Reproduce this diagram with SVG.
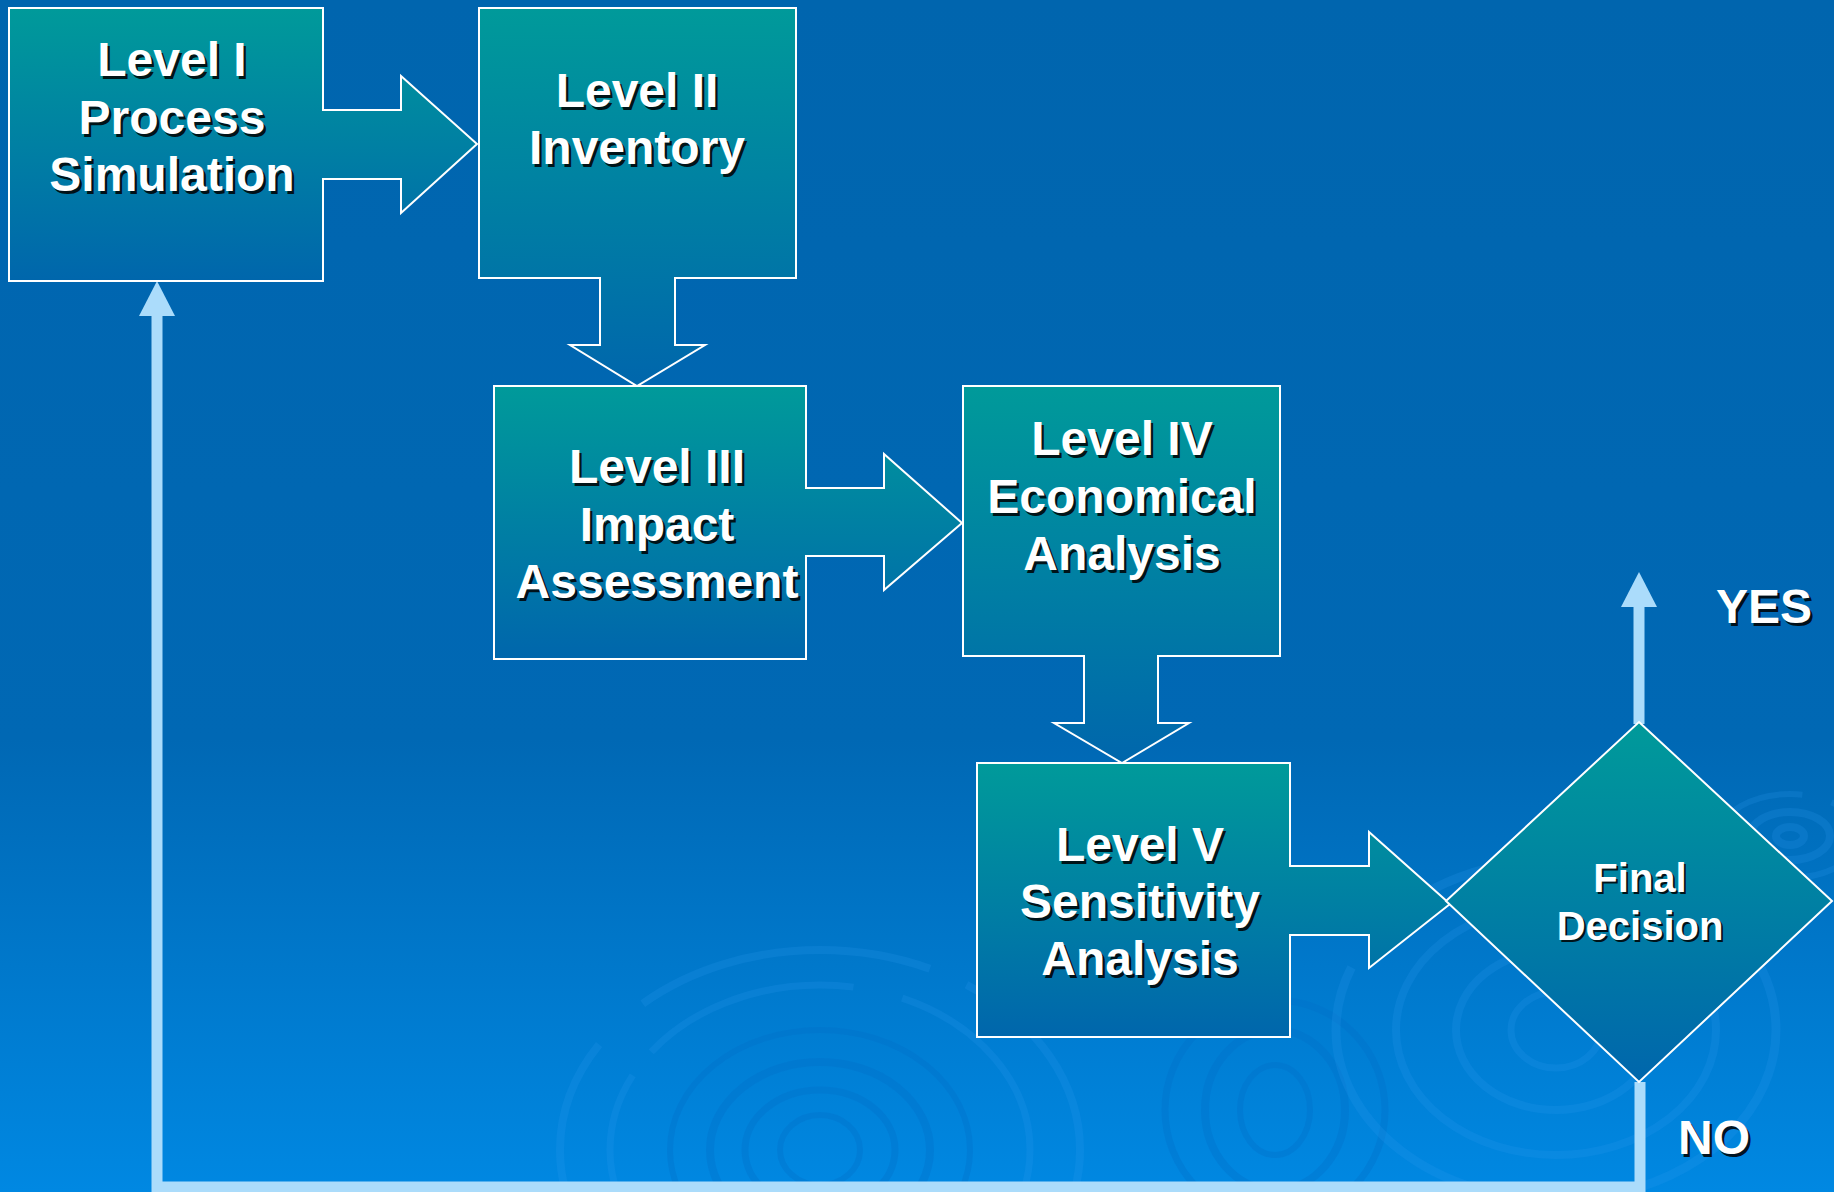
<svg xmlns="http://www.w3.org/2000/svg" width="1834" height="1192" viewBox="0 0 1834 1192">
  <defs>
    <linearGradient id="bg" x1="0" y1="0" x2="0" y2="1">
      <stop offset="0" stop-color="#0065ae"/>
      <stop offset="0.62" stop-color="#0068b4"/>
      <stop offset="1" stop-color="#0088e2"/>
    </linearGradient>
    <linearGradient id="boxFill" x1="0" y1="0" x2="0" y2="1">
      <stop offset="0" stop-color="#009a9a"/>
      <stop offset="1" stop-color="#0066ac"/>
    </linearGradient>
    <style>
      .shape { fill: url(#boxFill); stroke: #ffffff; stroke-width: 2; stroke-linejoin: miter; }
      .lbl { font-family: "Liberation Sans", Arial, sans-serif; font-weight: bold; font-size: 48px; text-anchor: middle; }
      .sm { font-size: 40px; }
      .txt { fill: #ffffff; }
      .shadow { fill: #000000; fill-opacity: 0.85; }
      .flow { fill: none; stroke: #abdcfb; stroke-width: 11; stroke-linejoin: miter; }
      .head { fill: #abdcfb; }
      .ripple { fill: none; stroke: #2b9cf2; stroke-opacity: 0.2; }
      .rippleDark { fill: none; stroke: #0070c8; stroke-opacity: 0.35; }
    </style>
  </defs>

  <!-- background -->
  <rect x="0" y="0" width="1834" height="1192" fill="url(#bg)"/>

  <!-- faint water ripples -->
  <g id="ripples">
    <ellipse class="ripple" cx="820" cy="1150" rx="260" ry="200" stroke-width="8" stroke-dasharray="300 40 500 60"/>
    <ellipse class="ripple" cx="820" cy="1150" rx="210" ry="165" stroke-width="7" stroke-dasharray="220 50 400 30"/>
    <ellipse class="rippleDark" cx="820" cy="1150" rx="150" ry="120" stroke-width="6"/>
    <ellipse class="rippleDark" cx="820" cy="1150" rx="110" ry="88" stroke-width="8"/>
    <ellipse class="rippleDark" cx="820" cy="1150" rx="75" ry="60" stroke-width="7"/>
    <ellipse class="rippleDark" cx="820" cy="1150" rx="40" ry="35" stroke-width="6"/>
    <ellipse class="rippleDark" cx="1275" cy="1110" rx="110" ry="110" stroke-width="7"/>
    <ellipse class="rippleDark" cx="1275" cy="1110" rx="70" ry="80" stroke-width="8"/>
    <ellipse class="rippleDark" cx="1275" cy="1110" rx="35" ry="45" stroke-width="6"/>
    <ellipse class="ripple" cx="1556" cy="1030" rx="220" ry="170" stroke-width="9" stroke-dasharray="260 40 380 50"/>
    <ellipse class="ripple" cx="1556" cy="1030" rx="160" ry="125" stroke-width="8"/>
    <ellipse class="ripple" cx="1556" cy="1030" rx="100" ry="80" stroke-width="8"/>
    <ellipse class="ripple" cx="1556" cy="1030" rx="45" ry="38" stroke-width="7"/>
    <ellipse class="ripple" cx="1790" cy="836" rx="70" ry="42" stroke-width="6" stroke-dasharray="120 20 140 30"/>
    <ellipse class="ripple" cx="1790" cy="836" rx="40" ry="24" stroke-width="8"/>
    <ellipse class="ripple" cx="1790" cy="836" rx="14" ry="9" stroke-width="8"/>
  </g>

  <!-- feedback and exit connectors -->
  <g id="connectors">
    <polyline class="flow" points="1640,1082 1640,1187 152,1187"/>
    <polyline class="flow" points="157,1192 157,314"/>
    <polygon class="head" points="139,316 157,281 175,316"/>
    <polyline class="flow" points="1639,724 1639,605"/>
    <polygon class="head" points="1621,607 1639,572 1657,607"/>
  </g>

  <!-- Level I with block arrow -->
  <g id="level1">
    <path class="shape" d="M9,8 H323 V110 H401 V76 L477,144 L401,213 V179 H323 V281 H9 Z"/>
    <g class="lbl">
      <g class="shadow" transform="translate(2.5,2.5)">
        <text x="172" y="76">Level I</text>
        <text x="172" y="134">Process</text>
        <text x="172" y="191">Simulation</text>
      </g>
      <g class="txt">
        <text x="172" y="76">Level I</text>
        <text x="172" y="134">Process</text>
        <text x="172" y="191">Simulation</text>
      </g>
    </g>
  </g>

  <!-- Level II with block arrow -->
  <g id="level2">
    <path class="shape" d="M479,8 H796 V278 H675 V345 H705 L637,386 L570,345 H600 V278 H479 Z"/>
    <g class="lbl">
      <g class="shadow" transform="translate(2.5,2.5)">
        <text x="637" y="107">Level II</text>
        <text x="637" y="164">Inventory</text>
      </g>
      <g class="txt">
        <text x="637" y="107">Level II</text>
        <text x="637" y="164">Inventory</text>
      </g>
    </g>
  </g>

  <!-- Level III with block arrow -->
  <g id="level3">
    <path class="shape" d="M494,386 H806 V488 H884 V454 L962,523 L884,590 V556 H806 V659 H494 Z"/>
    <g class="lbl">
      <g class="shadow" transform="translate(2.5,2.5)">
        <text x="657" y="483">Level III</text>
        <text x="657" y="541">Impact</text>
        <text x="657" y="598">Assessment</text>
      </g>
      <g class="txt">
        <text x="657" y="483">Level III</text>
        <text x="657" y="541">Impact</text>
        <text x="657" y="598">Assessment</text>
      </g>
    </g>
  </g>

  <!-- Level IV with block arrow -->
  <g id="level4">
    <path class="shape" d="M963,386 H1280 V656 H1158 V723 H1189 L1122,763 L1054,723 H1084 V656 H963 Z"/>
    <g class="lbl">
      <g class="shadow" transform="translate(2.5,2.5)">
        <text x="1122" y="455">Level IV</text>
        <text x="1122" y="513">Economical</text>
        <text x="1122" y="570">Analysis</text>
      </g>
      <g class="txt">
        <text x="1122" y="455">Level IV</text>
        <text x="1122" y="513">Economical</text>
        <text x="1122" y="570">Analysis</text>
      </g>
    </g>
  </g>

  <!-- Level V with block arrow -->
  <g id="level5">
    <path class="shape" d="M977,763 H1290 V866 H1369 V832 L1450,904 L1369,968 V935 H1290 V1037 H977 Z"/>
    <g class="lbl">
      <g class="shadow" transform="translate(2.5,2.5)">
        <text x="1140" y="861">Level V</text>
        <text x="1140" y="918">Sensitivity</text>
        <text x="1140" y="975">Analysis</text>
      </g>
      <g class="txt">
        <text x="1140" y="861">Level V</text>
        <text x="1140" y="918">Sensitivity</text>
        <text x="1140" y="975">Analysis</text>
      </g>
    </g>
  </g>

  <!-- decision diamond -->
  <g id="decision">
    <path class="shape" d="M1639,722 L1832,901 L1639,1082 L1446,901 Z"/>
    <g class="lbl sm">
      <g class="shadow" transform="translate(2,2)">
        <text x="1640" y="892">Final</text>
        <text x="1640" y="940">Decision</text>
      </g>
      <g class="txt">
        <text x="1640" y="892">Final</text>
        <text x="1640" y="940">Decision</text>
      </g>
    </g>
  </g>

  <!-- branch labels -->
  <g id="labels" class="lbl" style="text-anchor:start">
    <text class="shadow" x="1718.5" y="625.5">YES</text>
    <text class="txt" x="1716" y="623">YES</text>
    <text class="shadow" x="1680.5" y="1156.5">NO</text>
    <text class="txt" x="1678" y="1154">NO</text>
  </g>
</svg>
